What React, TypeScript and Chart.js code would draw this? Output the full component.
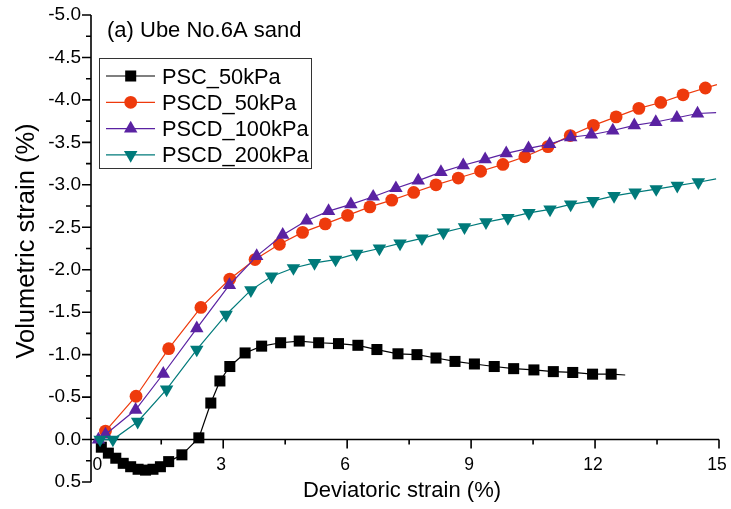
import React, { useEffect, useRef } from 'react';
import { Chart, registerables } from 'chart.js';

Chart.register(...registerables);

// ---- axis setup ----
const X_MIN = -0.2;
const X_MAX = 15;
const Y_MIN = -5;
const Y_MAX = 0.5;
const X_TICKS = [0, 3, 6, 9, 12, 15];
const Y_TICKS = [-5, -4.5, -4, -3.5, -3, -2.5, -2, -1.5, -1, -0.5, 0, 0.5];

const X_TITLE = 'Deviatoric strain (%)';
const Y_TITLE = 'Volumetric strain (%)';
const PANEL_LABEL = '(a) Ube No.6A sand';

// ---- series ----
const SERIES_NAMES = ['PSC_50kPa', 'PSCD_50kPa', 'PSCD_100kPa', 'PSCD_200kPa'];
const SERIES_COLORS = ['#000000', '#EE3A0C', '#5A22A2', '#007A7A'];
const SERIES_MARKERS = ['rect', 'circle', 'triangle', 'triangleDown'];

const PSC50_X = [0.05, 0.22, 0.40, 0.58, 0.76, 0.94, 1.12, 1.30, 1.48, 1.68, 2.00, 2.41, 2.70, 2.92, 3.16, 3.53, 3.93, 4.39, 4.84, 5.31, 5.79, 6.26, 6.72, 7.23, 7.69, 8.15, 8.61, 9.08, 9.56, 10.03, 10.52, 10.99, 11.46, 11.94, 12.39, 12.73];
const PSC50_Y = [0.09, 0.16, 0.22, 0.28, 0.32, 0.35, 0.36, 0.35, 0.32, 0.26, 0.18, -0.02, -0.43, -0.69, -0.86, -1.02, -1.10, -1.14, -1.16, -1.14, -1.13, -1.11, -1.06, -1.01, -1.00, -0.96, -0.92, -0.89, -0.86, -0.835, -0.82, -0.80, -0.79, -0.77, -0.77, -0.76];

const PSCD50_X = [0.15, 0.89, 1.68, 2.46, 3.16, 3.77, 4.36, 4.92, 5.47, 6.01, 6.55, 7.08, 7.61, 8.15, 8.69, 9.23, 9.77, 10.30, 10.86, 11.40, 11.96, 12.51, 13.06, 13.59, 14.13, 14.67, 14.95];
const PSCD50_Y = [-0.10, -0.51, -1.07, -1.556, -1.89, -2.12, -2.30, -2.44, -2.54, -2.64, -2.74, -2.82, -2.91, -3.00, -3.08, -3.16, -3.24, -3.33, -3.45, -3.58, -3.70, -3.80, -3.90, -3.97, -4.06, -4.14, -4.18];

const PSCD100_X = [-0.02, 0.15, 0.88, 1.55, 2.36, 3.15, 3.81, 4.44, 5.02, 5.55, 6.09, 6.63, 7.18, 7.72, 8.27, 8.81, 9.34, 9.85, 10.39, 10.90, 11.41, 11.91, 12.43, 12.95, 13.47, 13.98, 14.48, 14.93];
const PSCD100_Y = [0.0, -0.06, -0.35, -0.775, -1.31, -1.82, -2.16, -2.41, -2.58, -2.69, -2.77, -2.86, -2.96, -3.05, -3.15, -3.23, -3.30, -3.37, -3.43, -3.48, -3.56, -3.59, -3.64, -3.70, -3.74, -3.79, -3.84, -3.85];

const PSCD200_X = [0.02, 0.33, 0.93, 1.63, 2.36, 3.07, 3.67, 4.17, 4.70, 5.21, 5.72, 6.23, 6.78, 7.28, 7.81, 8.33, 8.84, 9.36, 9.89, 10.40, 10.91, 11.41, 11.95, 12.46, 12.97, 13.48, 13.99, 14.50, 14.93];
const PSCD200_Y = [0.0, 0.0, -0.21, -0.59, -1.06, -1.47, -1.76, -1.92, -2.02, -2.08, -2.12, -2.19, -2.25, -2.31, -2.37, -2.44, -2.50, -2.56, -2.61, -2.67, -2.71, -2.77, -2.81, -2.87, -2.91, -2.95, -2.99, -3.03, -3.07];

const SERIES_X = [PSC50_X, PSCD50_X, PSCD100_X, PSCD200_X];
const SERIES_Y = [PSC50_Y, PSCD50_Y, PSCD100_Y, PSCD200_Y];

const FONT = '"Liberation Sans", Arial, Helvetica, sans-serif';
const MARKER_R: Record<string, number> = { rect: 7.8, circle: 6.4, triangle: 7.8, triangleDown: 7.8 };

function drawMarker(ctx: CanvasRenderingContext2D, kind: string, x: number, y: number, color: string) {
  const r = MARKER_R[kind];
  ctx.fillStyle = color;
  ctx.beginPath();
  if (kind === 'rect') {
    const s = r * Math.SQRT1_2;
    ctx.rect(x - s, y - s, 2 * s, 2 * s);
  } else if (kind === 'circle') {
    ctx.arc(x, y, r, 0, Math.PI * 2);
  } else if (kind === 'triangle') {
    ctx.moveTo(x, y - r);
    ctx.lineTo(x + r * Math.sqrt(3) / 2, y + r / 2);
    ctx.lineTo(x - r * Math.sqrt(3) / 2, y + r / 2);
    ctx.closePath();
  } else {
    ctx.moveTo(x, y + r);
    ctx.lineTo(x + r * Math.sqrt(3) / 2, y - r / 2);
    ctx.lineTo(x - r * Math.sqrt(3) / 2, y - r / 2);
    ctx.closePath();
  }
  ctx.fill();
}

const axesPlugin = {
  id: 'originAxes',
  beforeDatasetsDraw(chart: any) {
    const { ctx, chartArea, scales } = chart;
    const xs = scales.x;
    const ys = scales.y;
    const y0 = ys.getPixelForValue(0);
    const left = chartArea.left;
    ctx.save();
    ctx.strokeStyle = '#000';
    ctx.lineWidth = 1.6;
    ctx.beginPath();
    ctx.moveTo(left, chartArea.top);
    ctx.lineTo(left, chartArea.bottom);
    Y_TICKS.forEach((v, i) => {
      const p = ys.getPixelForValue(v);
      ctx.moveTo(left - 9, p);
      ctx.lineTo(left, p);
      if (i < Y_TICKS.length - 1) {
        const m = ys.getPixelForValue((v + Y_TICKS[i + 1]) / 2);
        ctx.moveTo(left - 5, m);
        ctx.lineTo(left, m);
      }
    });
    ctx.moveTo(left, y0);
    ctx.lineTo(chartArea.right, y0);
    X_TICKS.forEach((v, i) => {
      const p = xs.getPixelForValue(v);
      ctx.moveTo(p, y0);
      ctx.lineTo(p, y0 + 9);
      if (i < X_TICKS.length - 1) {
        const m = xs.getPixelForValue((v + X_TICKS[i + 1]) / 2);
        ctx.moveTo(m, y0);
        ctx.lineTo(m, y0 + 5);
      }
    });
    ctx.stroke();
    ctx.restore();
  },
  afterDraw(chart: any) {
    const { ctx, chartArea, scales } = chart;
    const xs = scales.x;
    const ys = scales.y;
    const y0 = ys.getPixelForValue(0);
    ctx.save();
    ctx.fillStyle = '#000';
    ctx.font = `17.5px ${FONT}`;
    ctx.textAlign = 'center';
    ctx.textBaseline = 'alphabetic';
    X_TICKS.forEach((v) => {
      ctx.fillText(String(v), xs.getPixelForValue(v) - 2, y0 + 30);
    });
    ctx.font = `22px ${FONT}`;
    ctx.fillText(X_TITLE, (chartArea.left + chartArea.right) / 2 - 3, 497);
    ctx.save();
    ctx.translate(27, 241);
    ctx.rotate(-Math.PI / 2);
    ctx.textBaseline = 'middle';
    ctx.font = `25.5px ${FONT}`;
    ctx.fillText(Y_TITLE, 0, 0);
    ctx.restore();
    ctx.textAlign = 'left';
    ctx.font = `22px ${FONT}`;
    ctx.fillText(PANEL_LABEL, 107, 37);
    ctx.strokeStyle = '#333';
    ctx.lineWidth = 1;
    ctx.strokeRect(99.5, 58.5, 212, 110);
    ctx.font = `21.8px ${FONT}`;
    SERIES_NAMES.forEach((name, i) => {
      const ry = 76 + i * 26.3;
      ctx.strokeStyle = SERIES_COLORS[i];
      ctx.lineWidth = 1.2;
      ctx.beginPath();
      ctx.moveTo(106, ry);
      ctx.lineTo(155, ry);
      ctx.stroke();
      drawMarker(ctx, SERIES_MARKERS[i], 130.7, ry, SERIES_COLORS[i]);
      ctx.fillStyle = '#000';
      ctx.fillText(name, 162, ry + 7.5);
    });
    ctx.restore();
  },
};

export default function App() {
  const canvasRef = useRef<HTMLCanvasElement | null>(null);

  useEffect(() => {
    const canvas = canvasRef.current;
    if (!canvas) return;
    const datasets = SERIES_NAMES.map((name, i) => {
      const xsArr = SERIES_X[i];
      const ysArr = SERIES_Y[i];
      const n = xsArr.length;
      const marker = SERIES_MARKERS[i];
      const r = MARKER_R[marker];
      return {
        label: name,
        data: xsArr.map((x, k) => ({ x, y: ysArr[k] })),
        borderColor: SERIES_COLORS[i],
        backgroundColor: SERIES_COLORS[i],
        borderWidth: 1.2,
        pointStyle: marker === 'triangleDown' ? 'triangle' : marker,
        pointRotation: marker === 'triangleDown' ? 180 : 0,
        pointRadius: (c: any) => (c.dataIndex === n - 1 ? 0 : r),
        pointBorderWidth: 0,
        pointBackgroundColor: SERIES_COLORS[i],
        pointBorderColor: SERIES_COLORS[i],
        tension: 0,
        order: SERIES_NAMES.length - 1 - i,
        clip: 10,
      };
    });

    const chart = new Chart(canvas, {
      type: 'line',
      data: { datasets },
      options: {
        animation: false,
        responsive: false,
        devicePixelRatio: 1,
        layout: { padding: { top: 15, right: 12, bottom: 27, left: 0 } },
        plugins: {
          legend: { display: false },
          tooltip: { enabled: false },
          title: { display: false },
        },
        scales: {
          x: {
            type: 'linear',
            display: false,
            min: X_MIN,
            max: X_MAX,
            afterBuildTicks: (s: any) => {
              s.ticks = X_TICKS.map((v) => ({ value: v }));
            },
          },
          y: {
            type: 'linear',
            position: 'left',
            reverse: true,
            min: Y_MIN,
            max: Y_MAX,
            afterBuildTicks: (s: any) => {
              s.ticks = Y_TICKS.map((v) => ({ value: v }));
            },
            afterFit: (s: any) => {
              s.width = 91;
            },
            grid: {
              display: true,
              drawOnChartArea: false,
              drawTicks: true,
              tickLength: 9,
              tickColor: 'rgba(0,0,0,0)',
            },
            border: { display: false },
            ticks: {
              color: '#000',
              padding: 1,
              font: { family: FONT, size: 19 },
              callback: (v: any) => Number(v).toFixed(1),
            },
          },
        },
      },
      plugins: [axesPlugin],
    });
    return () => chart.destroy();
  }, []);

  return (
    <div style={{ position: 'absolute', left: 0, top: 0, width: 731, height: 509, background: '#fff' }}>
      <canvas ref={canvasRef} width={731} height={509} style={{ display: 'block' }} />
    </div>
  );
}
